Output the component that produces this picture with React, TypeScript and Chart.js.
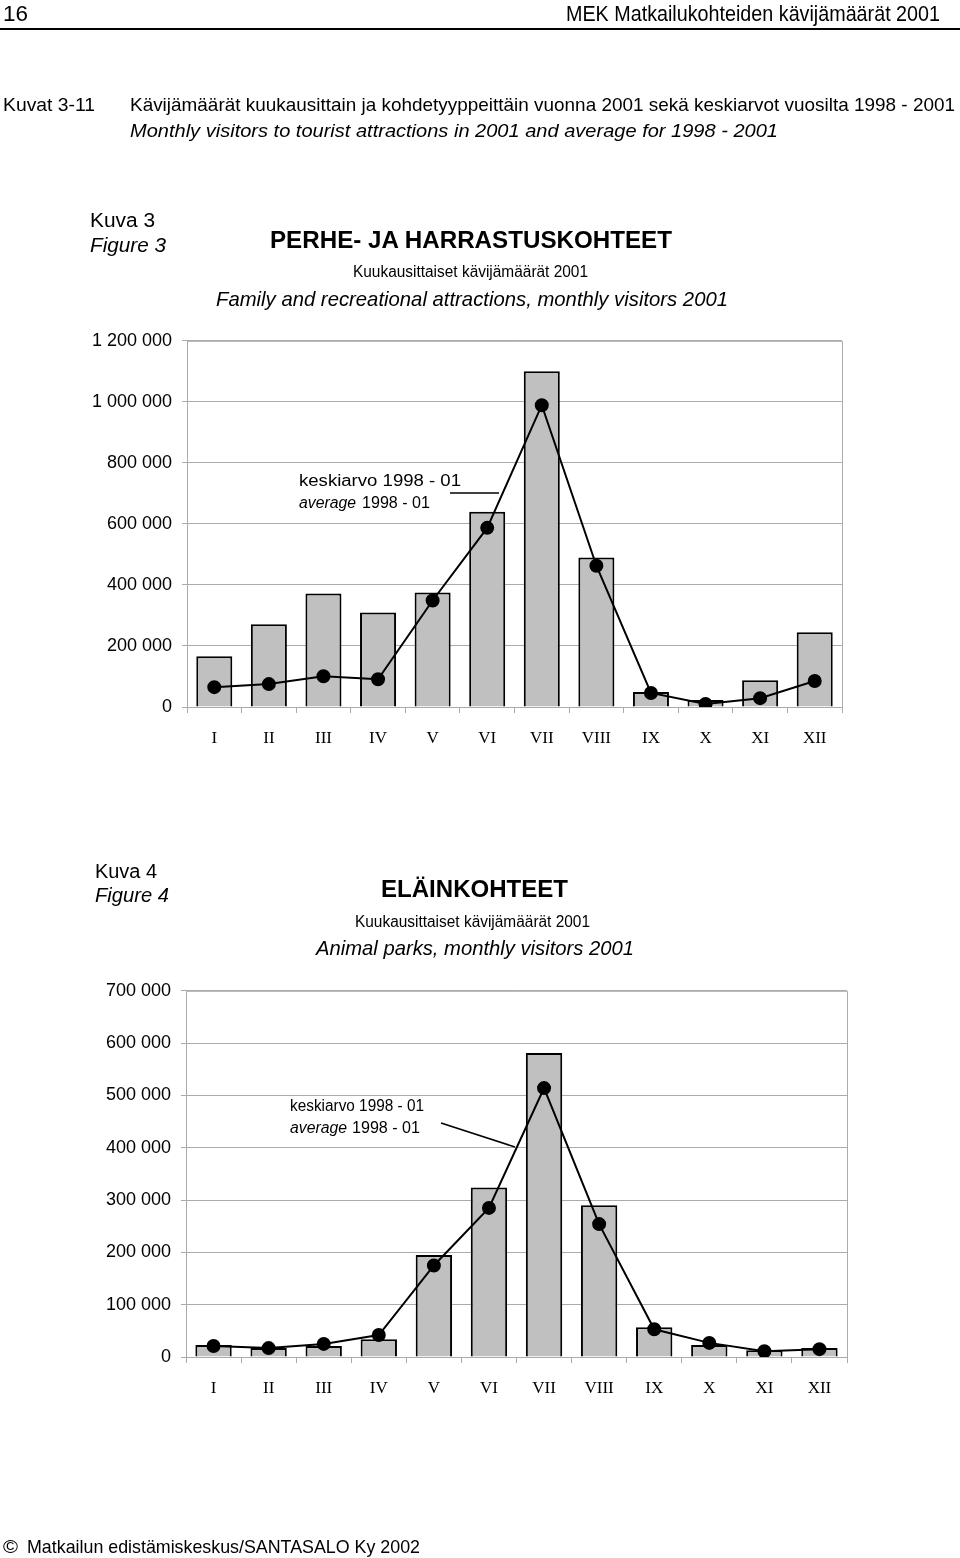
import React, { useEffect, useRef } from 'react';
import { Chart, registerables } from 'chart.js';

Chart.register(...registerables);

// ---- data ----
const months = ['I', 'II', 'III', 'IV', 'V', 'VI', 'VII', 'VIII', 'IX', 'X', 'XI', 'XII'];

const family2001 = [166000, 271000, 372000, 310000, 375000, 640000, 1100000, 490000, 49000, 23000, 88000, 245000];
const familyAvg = [65000, 75000, 101000, 91000, 349000, 587000, 989000, 463000, 46000, 10000, 29000, 85000];
const familyTicks = [0, 200000, 400000, 600000, 800000, 1000000, 1200000];

const animal2001 = [23000, 17000, 21000, 34000, 195000, 324000, 581000, 290000, 57000, 23000, 13000, 17000];
const animalAvg = [21000, 17000, 25000, 42000, 175000, 285000, 514000, 254000, 53000, 27000, 11000, 15000];
const animalTicks = [0, 100000, 200000, 300000, 400000, 500000, 600000, 700000];

const SANS = '"Liberation Sans", Arial, Helvetica, sans-serif';
const SERIF = '"Liberation Serif", "Times New Roman", serif';
const GRID = '#ababab';

const fmt = (v: number) => String(v).replace(/\B(?=(\d{3})+(?!\d))/g, ' ');

const framePlugin = {
  id: 'frame',
  beforeDatasetsDraw(chart: any) {
    const { ctx, chartArea } = chart;
    ctx.save();
    ctx.strokeStyle = GRID;
    ctx.lineWidth = 1;
    ctx.beginPath();
    ctx.moveTo(chartArea.left, chartArea.top + 0.5);
    ctx.lineTo(chartArea.right + 0.5, chartArea.top + 0.5);
    ctx.lineTo(chartArea.right + 0.5, chartArea.bottom);
    ctx.stroke();
    ctx.restore();
  },
};

type PanelProps = {
  top: number;
  height: number;
  padTop: number;
  padRight: number;
  yWidth: number;
  xHeight: number;
  bars: number[];
  line: number[];
  ticks: number[];
};

function Panel(p: PanelProps) {
  const ref = useRef<HTMLCanvasElement | null>(null);
  useEffect(() => {
    if (!ref.current) return;
    const max = p.ticks[p.ticks.length - 1];
    const chart = new Chart(ref.current, {
      type: 'bar',
      data: {
        labels: months,
        datasets: [
          {
            type: 'line',
            data: p.line,
            borderColor: '#000',
            borderWidth: 2,
            pointRadius: 6,
            pointBackgroundColor: '#000',
            pointBorderColor: '#000',
            tension: 0,
            order: 0,
          } as any,
          {
            type: 'bar',
            data: p.bars,
            backgroundColor: '#c0c0c0',
            borderColor: '#000',
            borderWidth: 2,
            barPercentage: 0.66,
            categoryPercentage: 1,
            order: 1,
          } as any,
        ],
      },
      options: {
        animation: false,
        responsive: false,
        maintainAspectRatio: false,
        layout: { padding: { top: p.padTop, right: p.padRight, left: 0, bottom: 0 } },
        plugins: { legend: { display: false }, tooltip: { enabled: false } },
        scales: {
          x: {
            grid: { offset: true, drawOnChartArea: false, drawTicks: true, tickLength: 6, color: GRID },
            border: { color: GRID },
            ticks: { font: { family: SERIF, size: 17 }, color: '#000', padding: 15, maxRotation: 0 },
            afterFit: (s: any) => { s.height = p.xHeight; },
          },
          y: {
            min: 0,
            max,
            grid: { color: GRID, tickLength: 5 },
            border: { color: GRID },
            ticks: {
              font: { family: SANS, size: 18 },
              color: '#000',
              padding: 10,
              callback: (v: any) => fmt(Number(v)),
            },
            afterBuildTicks: (s: any) => { s.ticks = p.ticks.map((v) => ({ value: v })); },
            afterFit: (s: any) => { s.width = p.yWidth; },
          },
        },
      } as any,
      plugins: [framePlugin],
    });
    return () => chart.destroy();
  }, []);
  return (
    <canvas
      ref={ref}
      width={960}
      height={p.height}
      style={{ position: 'absolute', left: 0, top: p.top, width: 960, height: p.height }}
    />
  );
}

type T = { s: string; x: number; y: number; size: number; w?: number; bold?: boolean; italic?: boolean };

const texts: T[] = [
  { s: '16', x: 3, y: 21, size: 22, w: 25 },
  { s: 'MEK Matkailukohteiden kävijämäärät 2001', x: 566, y: 21, size: 22, w: 374 },
  { s: 'Kuvat 3-11', x: 3, y: 111, size: 19, w: 92 },
  { s: 'Kävijämäärät kuukausittain ja kohdetyyppeittäin vuonna 2001 sekä keskiarvot vuosilta 1998 - 2001', x: 130, y: 111, size: 19, w: 825 },
  { s: 'Monthly visitors to tourist attractions in 2001 and average for 1998 - 2001', x: 130, y: 137, size: 19, w: 648, italic: true },
  // figure 3
  { s: 'Kuva 3', x: 90, y: 227, size: 20, w: 65 },
  { s: 'Figure 3', x: 90, y: 252, size: 20, w: 76, italic: true },
  { s: 'PERHE- JA HARRASTUSKOHTEET', x: 270, y: 248, size: 24, w: 402, bold: true },
  { s: 'Kuukausittaiset kävijämäärät 2001', x: 353, y: 277, size: 16, w: 235 },
  { s: 'Family and recreational attractions, monthly visitors 2001', x: 216, y: 306, size: 21, w: 512, italic: true },
  { s: 'keskiarvo 1998 - 01', x: 299, y: 486, size: 16, w: 162 },
  { s: 'average', x: 299, y: 508, size: 16, w: 57, italic: true },
  { s: '1998 - 01', x: 362, y: 508, size: 16, w: 68 },
  // figure 4
  { s: 'Kuva 4', x: 95, y: 878, size: 20, w: 62 },
  { s: 'Figure 4', x: 95, y: 902, size: 20, w: 74, italic: true },
  { s: 'ELÄINKOHTEET', x: 381, y: 897, size: 24, w: 187, bold: true },
  { s: 'Kuukausittaiset kävijämäärät 2001', x: 355, y: 927, size: 16, w: 235 },
  { s: 'Animal parks, monthly visitors 2001', x: 316, y: 955, size: 21, w: 318, italic: true },
  { s: 'keskiarvo 1998 - 01', x: 290, y: 1111, size: 16, w: 134 },
  { s: 'average', x: 290, y: 1133, size: 16, w: 57, italic: true },
  { s: '1998 - 01', x: 352, y: 1133, size: 16, w: 68 },
  // footer
  { s: '©', x: 3, y: 1553, size: 19, w: 15 },
  { s: 'Matkailun edistämiskeskus/SANTASALO Ky 2002', x: 27, y: 1553, size: 19, w: 393 },
];

export default function App() {
  useEffect(() => {
    document.body.style.margin = '0';
  }, []);
  return (
    <div style={{ position: 'absolute', left: 0, top: 0, width: 960, height: 1558, background: '#fff', overflow: 'hidden' }}>
      <Panel top={320} height={440} padTop={19} padRight={118} yWidth={187} xHeight={53}
        bars={family2001} line={familyAvg} ticks={familyTicks} />
      <Panel top={970} height={440} padTop={18} padRight={113} yWidth={186} xHeight={53}
        bars={animal2001} line={animalAvg} ticks={animalTicks} />
      <svg width={960} height={1558} style={{ position: 'absolute', left: 0, top: 0, pointerEvents: 'none' }}>
        <line x1={0} y1={29} x2={960} y2={29} stroke="#000" strokeWidth={2} />
        <line x1={450} y1={493} x2={499} y2={493} stroke="#000" strokeWidth={1.5} />
        <line x1={441} y1={1123} x2={515} y2={1147} stroke="#000" strokeWidth={1.5} />
        {texts.map((t, i) => (
          <text key={i} x={t.x} y={t.y} fontSize={t.size} fontFamily={SANS}
            fontWeight={t.bold ? 'bold' : 'normal'} fontStyle={t.italic ? 'italic' : 'normal'}
            textLength={t.w} lengthAdjust="spacingAndGlyphs" fill="#000">{t.s}</text>
        ))}
      </svg>
    </div>
  );
}
